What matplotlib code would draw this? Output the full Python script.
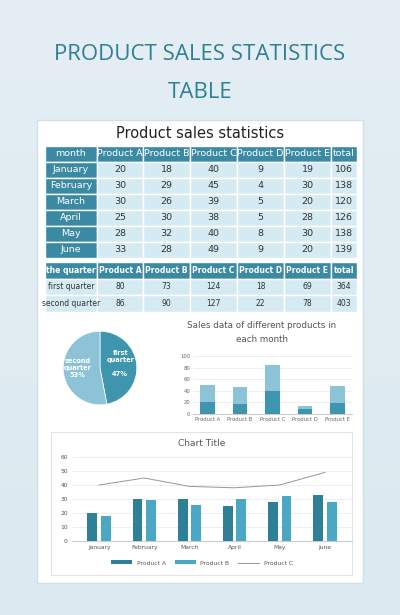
import matplotlib
matplotlib.use("Agg")
import matplotlib.pyplot as plt
from matplotlib.patches import Rectangle
import numpy as np

months = ["January", "February", "March", "April", "May", "June"]
products = ["Product A", "Product B", "Product C", "Product D", "Product E"]
sales = [[20, 18, 40, 9, 19], [30, 29, 45, 4, 30], [30, 26, 39, 5, 20],
         [25, 30, 38, 5, 28], [28, 32, 40, 8, 30], [33, 28, 49, 9, 20]]
totals = [106, 138, 120, 126, 138, 139]
quarters = ["first quarter", "second quarter"]
q_vals = [[80, 73, 124, 18, 69], [86, 90, 127, 22, 78]]
q_totals = [364, 403]
pie_vals = [47, 53]

W, H = 400, 615
fig = plt.figure(figsize=(4, 6.15), dpi=100)
bg = fig.add_axes([0, 0, 1, 1])
bg.set_xlim(0, W); bg.set_ylim(H, 0); bg.axis("off")
grad = np.linspace(0, 1, 100).reshape(-1, 1)
bg.imshow(grad, extent=[0, W, H, 0], cmap=matplotlib.colors.LinearSegmentedColormap.from_list("g", ["#e4eef4", "#dce9f0"]), aspect="auto")
bg.text(200, 55, "PRODUCT SALES STATISTICS", ha="center", va="center", fontsize=16, color="#2f7f95", family="Open Sans")
bg.text(200, 92, "TABLE", ha="center", va="center", fontsize=16, color="#2f7f95", family="Open Sans")
bg.add_patch(Rectangle((37, 120), 326, 463, fc="white", ec="#cfe0ea", lw=1))
bg.text(200, 134, "Product sales statistics", ha="center", va="center", fontsize=10.5, color="#222")

dark = "#3a8aa3"; light = "#d5eaf2"
cols = [45, 97, 143, 190, 237, 284, 331, 357]
def cell(x0, x1, y0, y1, txt, fc, tc, fs=6.8, bold=False):
    bg.add_patch(Rectangle((x0, y0), x1 - x0, y1 - y0, fc=fc, ec="white", lw=1))
    bg.text((x0 + x1) / 2, (y0 + y1) / 2, txt, ha="center", va="center", fontsize=fs, color=tc,
            fontweight="bold" if bold else "normal")

y = 146; rh = 16
hdr = ["month"] + products + ["total"]
for i, t in enumerate(hdr):
    cell(cols[i], cols[i + 1], y, y + rh, t, dark, "white")
for r, m in enumerate(months):
    y0 = y + rh * (r + 1)
    row = [m] + [str(v) for v in sales[r]] + [str(totals[r])]
    for i, t in enumerate(row):
        cell(cols[i], cols[i + 1], y0, y0 + rh, t, dark if i == 0 else light, "white" if i == 0 else "#333")

y = 262; rh = 16.5
hdr2 = ["the quarter"] + products + ["total"]
for i, t in enumerate(hdr2):
    cell(cols[i], cols[i + 1], y, y + rh, t, dark, "white", fs=5.5, bold=True)
for r, q in enumerate(quarters):
    y0 = y + rh * (r + 1)
    row = [q] + [str(v) for v in q_vals[r]] + [str(q_totals[r])]
    for i, t in enumerate(row):
        cell(cols[i], cols[i + 1], y0, y0 + rh, t, light, "#333", fs=5.5)

def ax_px(x0, y0, x1, y1):
    return fig.add_axes([x0 / W, 1 - y1 / H, (x1 - x0) / W, (y1 - y0) / H])

# pie
pa = ax_px(54, 322, 146, 414)
pa.pie(pie_vals, colors=["#3f94ae", "#8cc3d6"], startangle=90, counterclock=False,
       wedgeprops=dict(ec="white", lw=0.5))
pa.text(0.55, 0.12, "first\nquarter\n\n47%", ha="center", va="center", fontsize=4.8, color="white", fontweight="bold")
pa.text(-0.6, 0.0, "second\nquarter\n53%", ha="center", va="center", fontsize=4.8, color="white", fontweight="bold")
pa.set_aspect("equal")

# stacked bar
bg.text(262, 325, "Sales data of different products in", ha="center", va="center", fontsize=6.3, color="#555")
bg.text(262, 340, "each month", ha="center", va="center", fontsize=6.3, color="#555")
ba = ax_px(193, 356, 352, 414)
x = np.arange(len(products))
jan = np.array(sales[0]); feb = np.array(sales[1])
ba.bar(x, jan, width=0.45, color="#3f94ae", zorder=3)
ba.bar(x, feb, bottom=jan, width=0.45, color="#8cc3d6", zorder=3)
ba.set_ylim(0, 100); ba.set_yticks(range(0, 101, 20))
ba.set_xticks(x); ba.set_xticklabels(products)
ba.tick_params(labelsize=3.8, colors="#666", length=0, pad=2)
ba.grid(axis="y", color="#e6e6e6", lw=0.5)
for s in ba.spines.values(): s.set_visible(False)
ba.spines["bottom"].set_visible(True); ba.spines["bottom"].set_color("#ccc")

# bottom chart
bg.add_patch(Rectangle((51, 432), 301, 143, fc="white", ec="#e3e3e3", lw=0.8))
bg.text(202, 443, "Chart Title", ha="center", va="center", fontsize=6.5, color="#555")
la = ax_px(72, 457, 352, 541)
x = np.arange(len(months))
a = [r[0] for r in sales]; b = [r[1] for r in sales]; c = [r[2] for r in sales]
ba1 = la.bar(x - 0.15, a, width=0.22, color="#2f7f97", label="Product A", zorder=3)
ba2 = la.bar(x + 0.15, b, width=0.22, color="#4aa8c4", label="Product B", zorder=3)
ln, = la.plot(x, c, color="#8a9aa6", lw=0.7, label="Product C", zorder=4)
la.set_ylim(0, 60); la.set_yticks(range(0, 61, 10))
la.set_xlim(-0.6, 5.6)
la.set_xticks(x); la.set_xticklabels(months)
la.tick_params(labelsize=4.3, colors="#555", length=0, pad=3)
la.grid(axis="y", color="#e8e8e8", lw=0.5)
for s in la.spines.values(): s.set_visible(False)
la.spines["bottom"].set_visible(True); la.spines["bottom"].set_color("#ccc")
fig.legend(handles=[ba1, ba2, ln], loc="center", bbox_to_anchor=(202 / W, 1 - 563 / H), ncol=3,
           fontsize=4.3, frameon=False, handlelength=3.5, handleheight=0.6, columnspacing=1.5,
           labelcolor="#555")

fig.savefig("out.png", dpi=100)
